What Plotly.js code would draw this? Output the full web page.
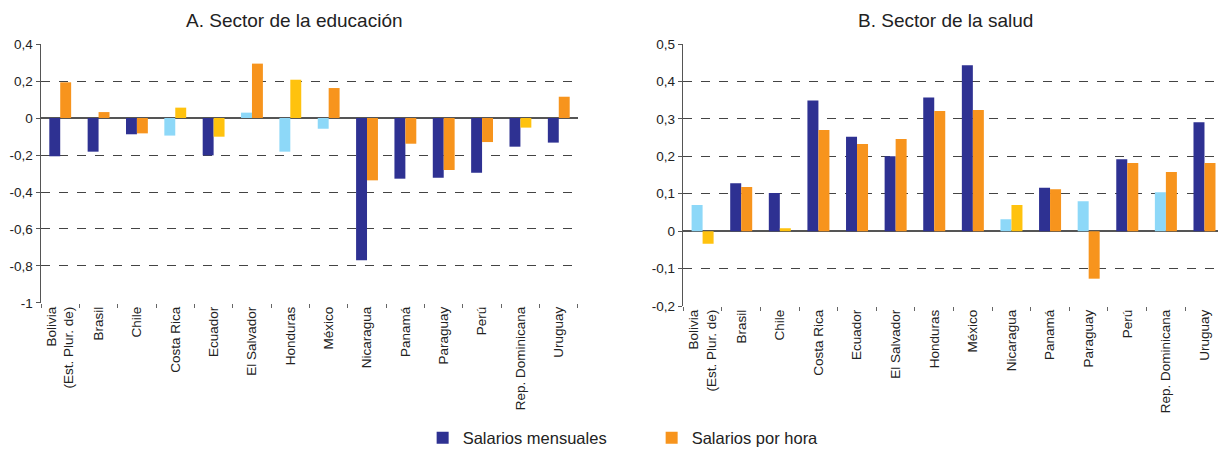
<!DOCTYPE html>
<html>
<head>
<meta charset="utf-8">
<script src="https://cdn.plot.ly/plotly-3.0.1.min.js"></script>
<style>html,body{margin:0;padding:0;background:#fff}#chart{width:1218px;height:450px}</style>
</head>
<body>
<div id="chart"></div>
<script>
// Categories
const countries = ["Bolivia<br>(Est. Plur. de)", "Brasil", "Chile", "Costa Rica", "Ecuador", "El Salvador", "Honduras", "México", "Nicaragua", "Panamá", "Paraguay", "Perú", "Rep. Dominicana", "Uruguay"];

// A. Sector de la educación
const eduMensual = [-0.207, -0.182, -0.088, -0.095, -0.202, 0.029, -0.182, -0.058, -0.769, -0.328, -0.323, -0.296, -0.155, -0.133];
const eduHora    = [0.193, 0.032, -0.083, 0.056, -0.101, 0.294, 0.207, 0.162, -0.337, -0.139, -0.281, -0.130, -0.052, 0.115];
// 1 = statistically significant (dark colour), 0 = not significant (light colour)
const eduMensualSig = [1, 1, 1, 0, 1, 0, 0, 0, 1, 1, 1, 1, 1, 1];
const eduHoraSig    = [1, 1, 1, 0, 0, 1, 0, 1, 1, 1, 1, 1, 0, 1];

// B. Sector de la salud
const saludMensual = [0.070, 0.128, 0.102, 0.349, 0.252, 0.200, 0.357, 0.443, 0.032, 0.116, 0.080, 0.192, 0.104, 0.291];
const saludHora    = [-0.034, 0.118, 0.008, 0.270, 0.233, 0.246, 0.321, 0.324, 0.070, 0.112, -0.127, 0.182, 0.158, 0.182];
const saludMensualSig = [0, 1, 1, 1, 1, 1, 1, 1, 0, 1, 0, 1, 0, 1];
const saludHoraSig    = [0, 1, 0, 1, 1, 1, 1, 1, 0, 1, 1, 1, 1, 1];

// Tick labels
const eduTickVals = [0.4, 0.2, 0, -0.2, -0.4, -0.6, -0.8, -1];
const eduTickText = ["0,4", "0,2", "0", "-0,2", "-0,4", "-0,6", "-0,8", "-1"];
const saludTickVals = [0.5, 0.4, 0.3, 0.2, 0.1, 0, -0.1, -0.2];
const saludTickText = ["0,5", "0,4", "0,3", "0,2", "0,1", "0", "-0,1", "-0,2"];

const seriesNames = ["Salarios mensuales", "Salarios por hora"];
const panelTitles = ["A. Sector de la educación", "B. Sector de la salud"];

const C_MENS = "#2E3192", C_MENS_NS = "#8DD8F8";
const C_HORA = "#F7941D", C_HORA_NS = "#FFC20E";
const colorize = (sig, dark, light) => sig.map(s => s ? dark : light);

const FONT = "Liberation Sans, Arial, sans-serif";

const traces = [
  {type: "bar", x: countries, y: eduMensual, name: seriesNames[0], xaxis: "x", yaxis: "y",
   marker: {color: colorize(eduMensualSig, C_MENS, C_MENS_NS)}},
  {type: "bar", x: countries, y: eduHora, name: seriesNames[1], xaxis: "x", yaxis: "y",
   marker: {color: colorize(eduHoraSig, C_HORA, C_HORA_NS)}},
  {type: "bar", x: countries, y: saludMensual, name: seriesNames[0], xaxis: "x2", yaxis: "y2",
   marker: {color: colorize(saludMensualSig, C_MENS, C_MENS_NS)}, showlegend: false},
  {type: "bar", x: countries, y: saludHora, name: seriesNames[1], xaxis: "x2", yaxis: "y2",
   marker: {color: colorize(saludHoraSig, C_HORA, C_HORA_NS)}, showlegend: false}
];

const xCommon = {
  type: "category", tickangle: -90, tickson: "boundaries", ticks: "outside", ticklen: 4,
  tickcolor: "#666", showgrid: false, showline: false, zeroline: false,
  tickfont: {family: FONT, size: 13.5, color: "#222"}, automargin: false
};
const yCommon = {
  showgrid: true, gridcolor: "#444", griddash: "dash", gridwidth: 1,
  zeroline: true, zerolinecolor: "#555", zerolinewidth: 1.5,
  showline: true, linecolor: "#555", linewidth: 1.5,
  ticks: "outside", ticklen: 4, tickcolor: "#555",
  tickfont: {family: FONT, size: 13.5, color: "#222"}, automargin: false
};

const layout = {
  width: 1218, height: 450,
  margin: {l: 0, r: 0, t: 0, b: 0, autoexpand: false},
  paper_bgcolor: "#fff", plot_bgcolor: "#fff",
  barmode: "group", bargap: 0.43, bargroupgap: 0,
  font: {family: FONT, size: 13.5, color: "#222"},
  xaxis: Object.assign({}, xCommon, {domain: [0.0337, 0.4745], anchor: "y", range: [-0.5, 13.5]}),
  yaxis: Object.assign({}, yCommon, {domain: [0.3267, 0.9022], anchor: "x", range: [-1, 0.4],
    tickvals: eduTickVals, ticktext: eduTickText}),
  xaxis2: Object.assign({}, xCommon, {domain: [0.561, 1], anchor: "y2", range: [-0.5, 13.35]}),
  yaxis2: Object.assign({}, yCommon, {domain: [0.32, 0.9022], anchor: "x2", range: [-0.2, 0.5],
    tickvals: saludTickVals, ticktext: saludTickText}),
  showlegend: true,
  legend: {orientation: "h", x: 0.347, xanchor: "left", y: 1 - 438/450, yanchor: "middle",
    font: {family: FONT, size: 16.5, color: "#222"}, entrywidth: 184, entrywidthmode: "pixels",
    bgcolor: "rgba(0,0,0,0)", traceorder: "normal"},
  annotations: [
    {text: panelTitles[0], xref: "paper", yref: "paper", x: 294/1218, y: 1 - 21/450,
     xanchor: "center", yanchor: "middle", showarrow: false, font: {family: FONT, size: 19, color: "#222"}},
    {text: panelTitles[1], xref: "paper", yref: "paper", x: 945/1218, y: 1 - 21/450,
     xanchor: "center", yanchor: "middle", showarrow: false, font: {family: FONT, size: 19, color: "#222"}}
  ]
};

Plotly.newPlot("chart", traces, layout, {displayModeBar: false, staticPlot: true});
</script>
</body>
</html>
